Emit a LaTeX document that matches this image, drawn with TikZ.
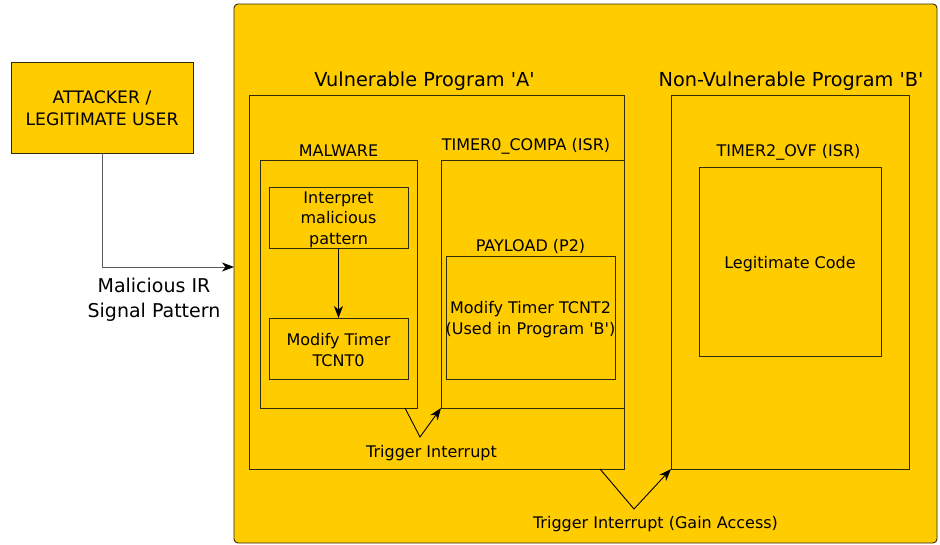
\documentclass[tikz,border=0pt]{standalone}
\usepackage{fontspec}
\setmainfont{DejaVu Sans}
\usetikzlibrary{arrows.meta,calc}
\definecolor{amber}{HTML}{FFCC00}
\definecolor{edge}{HTML}{2E2A12}
\definecolor{wire}{HTML}{5A5A5A}
\newcommand\sq{\textquotesingle}

\begin{document}
\begin{tikzpicture}[x=1pt,y=-1pt,
  box/.style={draw=edge, fill=amber, line width=0.9pt, inner sep=0pt, outer sep=0pt, anchor=north west},
  txt/.style={align=center, inner sep=0pt, font=\fontsize{16}{20.5}\selectfont},
  bigtxt/.style={align=center, inner sep=0pt, font=\fontsize{19.3}{25}\selectfont},
  tip/.style={-{Stealth[length=12pt,width=9pt,inset=3.5pt,color=black]}},
  link/.style={draw=black, line width=0.9pt, tip}]

\useasboundingbox (0,0) rectangle (940,544);

% outer device area
\node[box, rounded corners=4pt, minimum width=703pt, minimum height=539pt] (device) at (234,4) {};

% attacker
\node[box, minimum width=182pt, minimum height=91pt] (attacker) at (11,62) {};
\node[txt, font=\fontsize{17.2}{22}\selectfont] (attackertxt) at ($(attacker.center)+(0,1)$) {ATTACKER /\\LEGITIMATE USER};

% program A
\node[box, minimum width=375pt, minimum height=374pt] (progA) at (249,95) {};
\node[bigtxt] (progAtitle) at (424.5,81.5) {Vulnerable Program \sq A\sq};

\node[box, minimum width=157pt, minimum height=248pt] (malware) at (260,160) {};
\node[txt] (malwaretitle) at (338.5,151) {MALWARE};
\node[box, minimum width=139pt, minimum height=61pt] (interp) at (269,187) {};
\node[txt] (interptxt) at ($(interp.center)+(0,2)$) {Interpret\\malicious\\pattern};
\node[box, minimum width=139pt, minimum height=61pt] (modify0) at (269,318) {};
\node[txt] (modify0txt) at ($(modify0.center)+(0,1.5)$) {Modify Timer\\TCNT0};

\node[box, minimum width=183pt, minimum height=248pt] (timer0) at (441,160) {};
\node[txt] (timer0title) at (526,146.5) {TIMER0\_COMPA (ISR)};
\node[box, minimum width=169pt, minimum height=123pt] (payload) at (446,256) {};
\node[txt] (payloadtitle) at (530.5,246.5) {PAYLOAD (P2)};
\node[txt] (payloadtxt) at ($(payload.center)+(0,2)$) {Modify Timer TCNT2\\(Used in Program \sq B\sq)};

% program B
\node[box, minimum width=238pt, minimum height=374pt] (progB) at (671,95) {};
\node[bigtxt] (progBtitle) at (791,81.5) {Non-Vulnerable Program \sq B\sq};
\node[box, minimum width=182pt, minimum height=189pt] (legit) at (699,167) {};
\node[txt] (timer2title) at (788.5,152.5) {TIMER2\_OVF (ISR)};
\node[txt] (legittxt) at ($(legit.center)+(0,2.5)$) {Legitimate Code};

% connectors
\coordinate (irin) at (234,267);
\draw[draw=wire, line width=0.9pt, tip] (attacker.south) |- (irin);
\node[bigtxt, font=\fontsize{19}{25}\selectfont] (irlabel) at (154,299.5) {Malicious IR\\Signal Pattern};

\draw[link] (interp.south) -- (modify0.north);

\coordinate (trigA) at (420,437);
\draw[link] ([xshift=-12pt]malware.south east) -- (trigA) -- (timer0.south west);
\node[txt] (trigAlabel) at (431.5,453.5) {Trigger Interrupt};

\coordinate (trigB) at (634,509);
\draw[link] ([xshift=-24pt]progA.south east) -- (trigB) -- (progB.south west);
\node[txt] (trigBlabel) at (655.5,524.5) {Trigger Interrupt (Gain Access)};
\end{tikzpicture}
\end{document}
